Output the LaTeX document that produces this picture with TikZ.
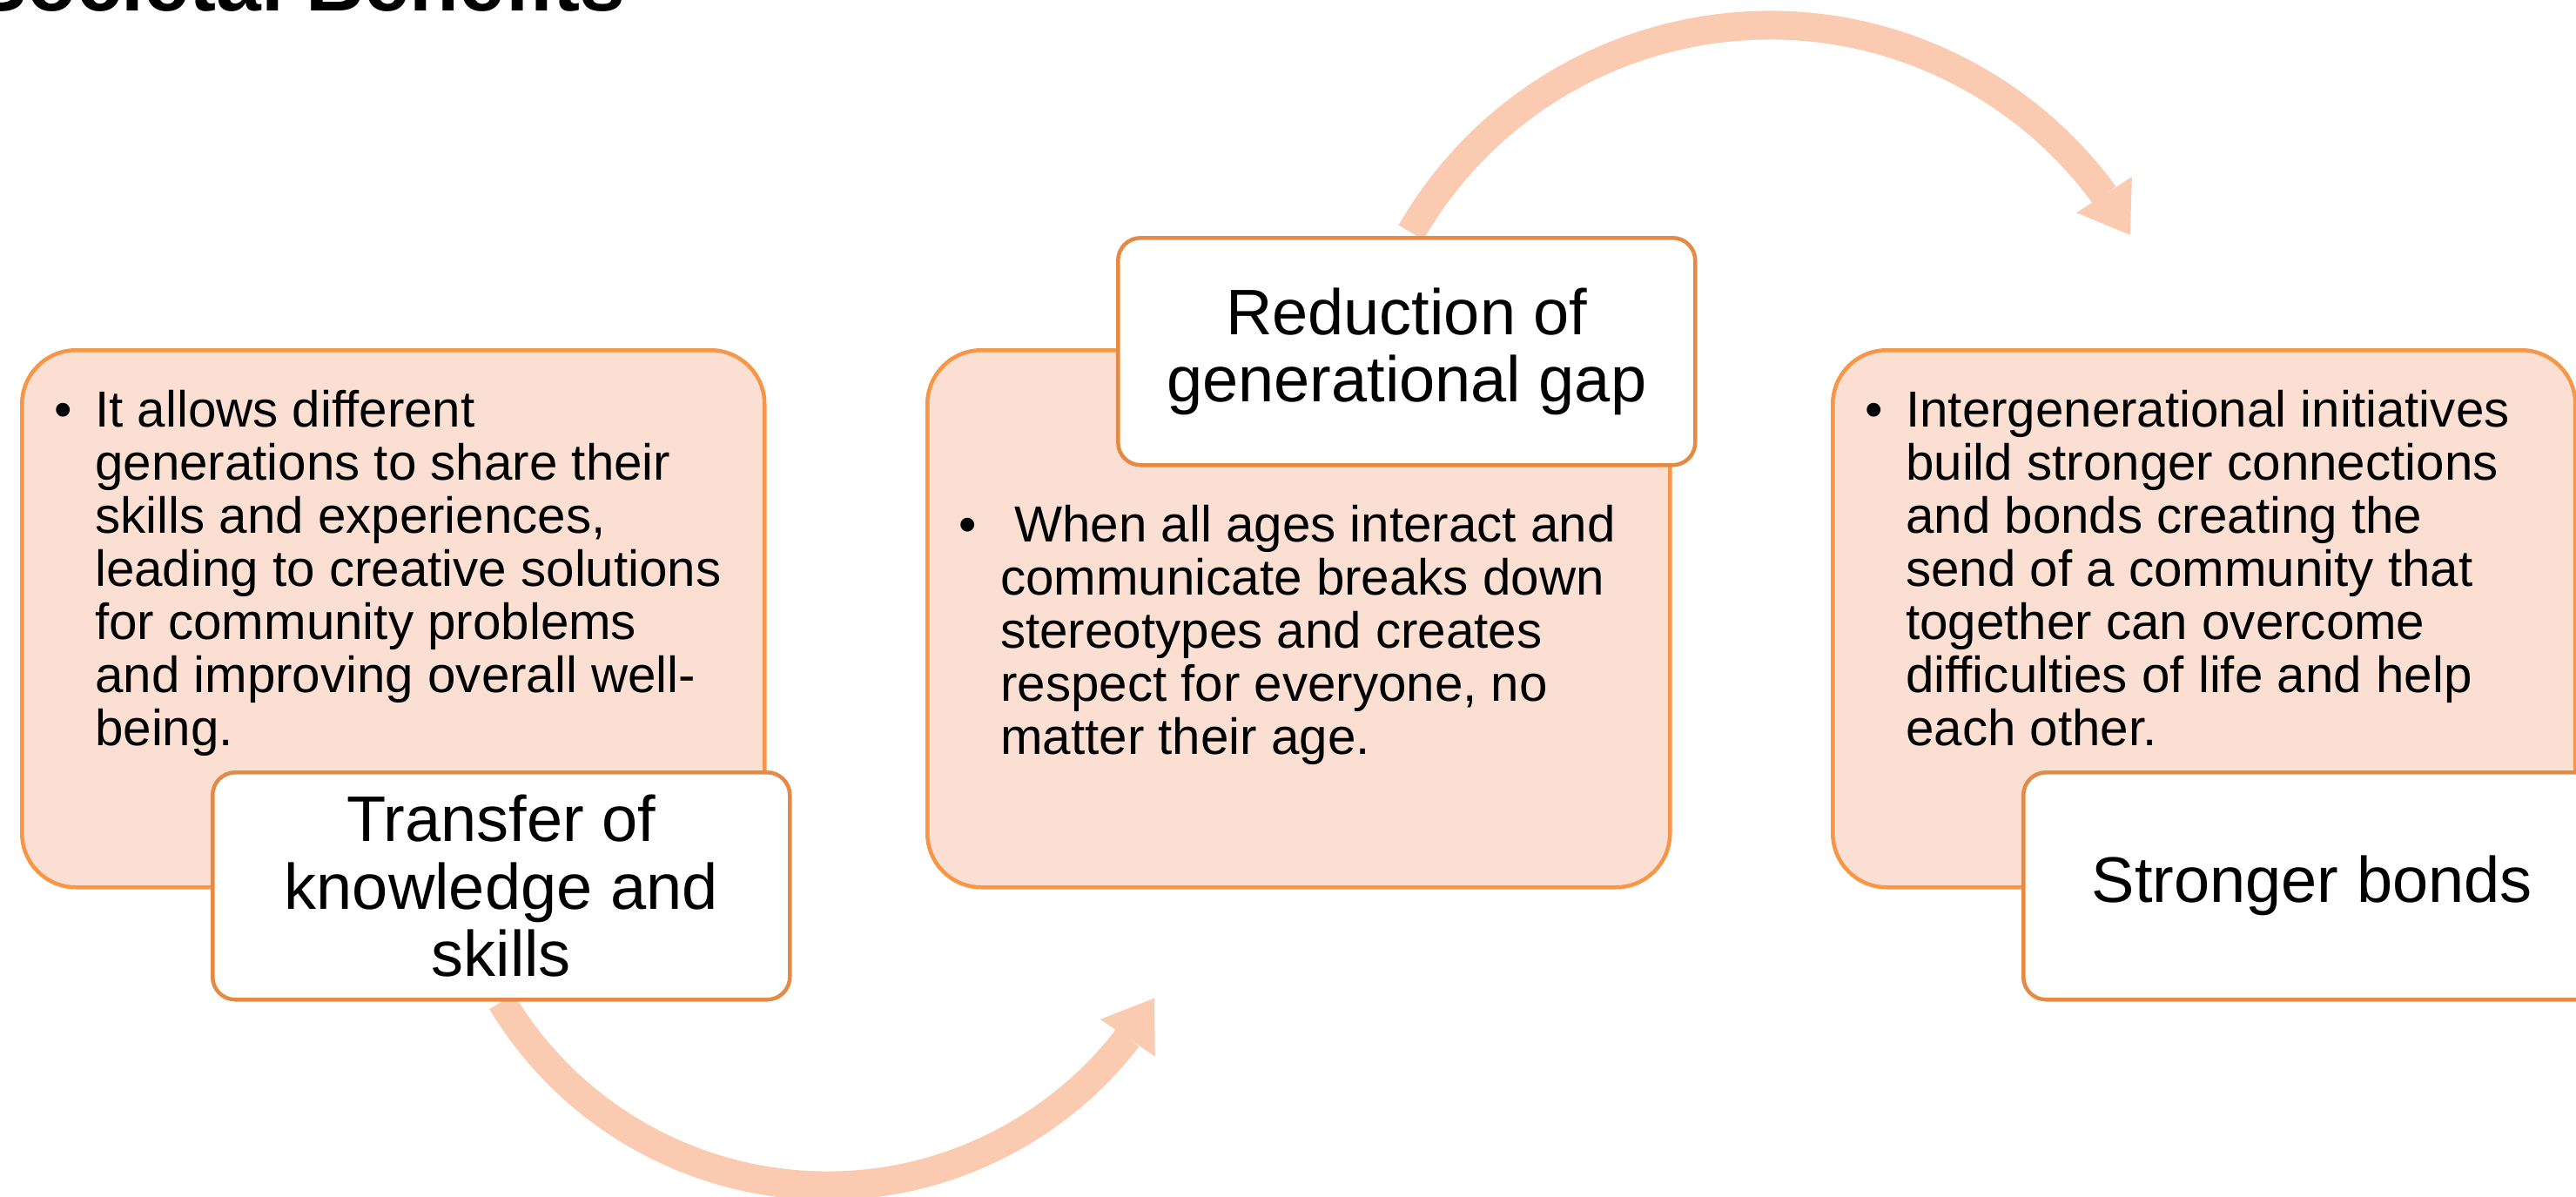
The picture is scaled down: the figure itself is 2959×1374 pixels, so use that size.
\documentclass[tikz,border=0pt]{standalone}
\usepackage{fontspec}
\setmainfont{Liberation Sans}
\usetikzlibrary{arrows.meta,bending,calc}

\definecolor{panelfill}{HTML}{FBDFD3}
\definecolor{panelline}{HTML}{F79646}
\definecolor{tagline}{HTML}{E48A45}
\definecolor{flowcol}{HTML}{FACAB1}

\tikzset{
  panel/.style={draw=panelline, fill=panelfill, line width=4.5pt, rounded corners=62pt,
    minimum width=853pt, minimum height=617pt, anchor=north west, inner sep=0pt},
  tag/.style={draw=tagline, fill=white, line width=4.5pt, rounded corners=26pt,
    minimum width=663pt, minimum height=261pt, anchor=north west, inner sep=0pt,
    align=center, font=\fontsize{74}{77.5}\selectfont},
  % multi-line text is placed by the baseline of its last line
  body/.style={anchor=base west, inner sep=0pt, align=left,
    font=\fontsize{58.3}{61}\selectfont},
  dot/.style={anchor=base, inner sep=0pt, font=\fontsize{58.3}{61}\selectfont},
  flow/.style={draw=flowcol, line width=33pt,
    -{Triangle[width=76pt,length=55pt,line width=0pt]}},
  heading/.style={anchor=base west, inner sep=0pt,
    font=\fontsize{93}{100}\selectfont\bfseries},
}

\begin{document}
\begin{tikzpicture}[x=1pt,y=-1pt]
  \useasboundingbox (0,0) rectangle (2959,1374);
  \clip (0,0) rectangle (2959,1374);

  % slide heading
  \node[heading] (title) at (-31,12) {Societal Benefits};

  % curved flow arrows (drawn first, they pass under the boxes)
  \coordinate (lowC) at (950,926);
  \coordinate (highC) at (2033,505);
  \draw[flow] ($(lowC)+(149:436)$) arc[start angle=149, end angle=30.4, radius=436];
  \draw[flow] ($(highC)+(210:476)$) arc[start angle=210, end angle=330.4, radius=476];

  % first step
  \node[panel] (p1) at (23,400) {};
  \node[dot] (d1) at (73,490) {•};
  \node[body] (t1) at (109,856) {It allows different\\generations to share their\\skills and experiences,\\leading to creative solutions\\for community problems\\and improving overall well-\\being.};
  \node[tag] (k1) at (242,885) {Transfer of\\knowledge and\\skills};

  % second step
  \node[panel] (p2) at (1063,400) {};
  \node[dot] (d2) at (1112,622) {•};
  \node[body] (t2) at (1149,866) {~When all ages interact and\\communicate breaks down\\stereotypes and creates\\respect for everyone, no\\matter their age.};
  \node[tag] (k2) at (1282,271) {Reduction of\\generational gap};

  % third step
  \node[panel] (p3) at (2103,400) {};
  \node[dot] (d3) at (2153,490) {•};
  \node[body] (t3) at (2189,856) {Intergenerational initiatives\\build stronger connections\\and bonds creating the\\send of a community that\\together can overcome\\difficulties of life and help\\each other.};
  \node[tag] (k3) at (2322,885) {Stronger bonds};
\end{tikzpicture}
\end{document}
